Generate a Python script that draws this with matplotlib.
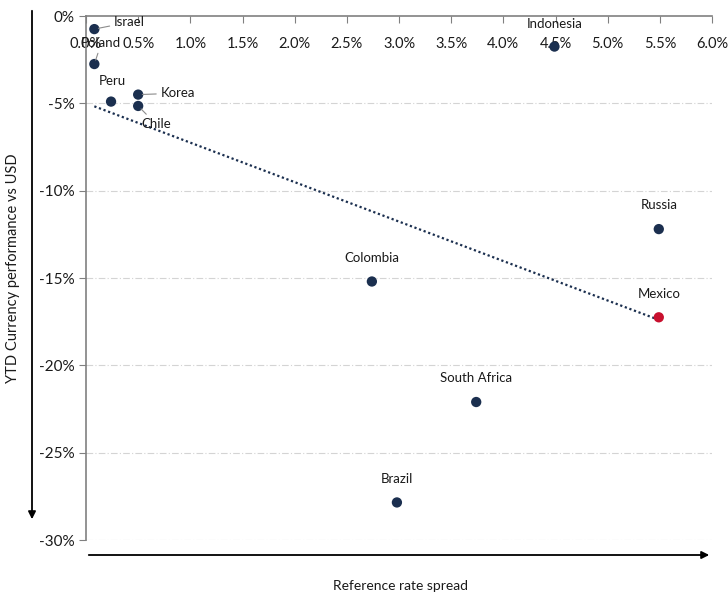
import matplotlib
matplotlib.use("Agg")
import matplotlib.pyplot as plt
import numpy as np
from matplotlib.ticker import FuncFormatter

# data: reference rate spread (%) vs YTD currency performance vs USD (%)
countries = ["Israel", "Poland", "Peru", "Korea", "Chile", "Indonesia",
             "Colombia", "Brazil", "South Africa", "Russia", "Mexico"]
spread = [0.08, 0.08, 0.24, 0.50, 0.50, 4.49, 2.74, 2.98, 3.74, 5.49, 5.49]
perf = [-0.75, -2.75, -4.9, -4.5, -5.15, -1.75, -15.2, -27.85, -22.1, -12.2, -17.25]
highlight = "Mexico"

x_ticks = [0.0, 0.5, 1.0, 1.5, 2.0, 2.5, 3.0, 3.5, 4.0, 4.5, 5.0, 5.5, 6.0]
y_ticks = [0, -5, -10, -15, -20, -25, -30]

NAVY = "#1b2f4f"
RED = "#c8102e"
GREY = "#808080"

plt.rcParams["font.family"] = ["Lato", "DejaVu Sans"]

W, H = 728, 596
fig = plt.figure(figsize=(W / 100, H / 100), dpi=100)
ax = fig.add_axes([86 / W, 1 - 540 / H, (712 - 86) / W, (540 - 16) / H])

ax.set_xlim(0, 6.0)
ax.set_ylim(-30, 0)

for y in y_ticks[1:]:
    ax.axhline(y, color="#d4d4d4", lw=0.8, ls=(0, (6, 2, 1, 2)), zorder=0)

# trend line (least squares)
k, b = np.polyfit(spread, perf, 1)
xs = np.array([min(spread), max(spread)])
ax.plot(xs, k * xs + b, ls=(0, (1, 1.2)), color=NAVY, lw=1.6, zorder=2)

cols = [RED if c == highlight else NAVY for c in countries]
ax.scatter(spread, perf, s=55, c=cols, zorder=3, edgecolors="none")

# labels: offsets in points, leader flag
label_pos = {
    "Israel": (14, 5, True, "left"),
    "Poland": (5, 15, True, "center"),
    "Peru": (1, 15, False, "center"),
    "Korea": (16, 1, True, "left"),
    "Chile": (2, -13, True, "left"),
    "Indonesia": (0, 16, False, "center"),
    "Colombia": (0, 17, False, "center"),
    "Brazil": (0, 17, False, "center"),
    "South Africa": (0, 17, False, "center"),
    "Russia": (0, 17, False, "center"),
    "Mexico": (0, 17, False, "center"),
}
for c, x, y in zip(countries, spread, perf):
    dx, dy, lead, ha = label_pos[c]
    kw = {}
    if lead:
        kw["arrowprops"] = dict(arrowstyle="-", color="#8c8c8c", lw=0.8,
                                shrinkA=1, shrinkB=3)
    ax.annotate(c, (x, y), xytext=(dx, dy), textcoords="offset points",
                ha=ha, va="center", fontsize=9.5, color="#1a1a1a", **kw)

ax.set_xticks(x_ticks)
ax.set_yticks(y_ticks)
ax.xaxis.set_major_formatter(FuncFormatter(lambda v, p: f"{v:.1f}%"))
ax.yaxis.set_major_formatter(FuncFormatter(lambda v, p: f"{v:.0f}%"))
ax.spines["bottom"].set_position(("data", 0))
ax.spines["top"].set_visible(False)
ax.spines["right"].set_visible(False)
for s in ("bottom", "left"):
    ax.spines[s].set_color(GREY)
    ax.spines[s].set_linewidth(1.2)
ax.tick_params(axis="x", direction="out", length=5, color=GREY, pad=10,
               labelsize=10.5, labelcolor="#1a1a1a")
ax.tick_params(axis="y", direction="out", length=5, color=GREY, pad=3,
               labelsize=11, labelcolor="#1a1a1a")

# axis arrows and titles in figure pixels
def fp(px, py):
    return (px / W, 1 - py / H)

fig.add_artist(matplotlib.patches.FancyArrowPatch(
    fp(86, 555), fp(712, 555), transform=fig.transFigure,
    arrowstyle="-|>", mutation_scale=11, color="black", lw=1.3))
fig.add_artist(matplotlib.patches.FancyArrowPatch(
    fp(32, 8), fp(32, 522), transform=fig.transFigure,
    arrowstyle="-|>", mutation_scale=11, color="black", lw=1.3))
fig.text(*fp(400, 586), "Reference rate spread", ha="center", va="center",
         fontsize=10, color="#1a1a1a")
fig.text(*fp(13, 268), "YTD Currency performance vs USD", ha="center",
         va="center", rotation=90, fontsize=10.5, color="#1a1a1a")

fig.savefig("out.png", dpi=100, facecolor="white")
